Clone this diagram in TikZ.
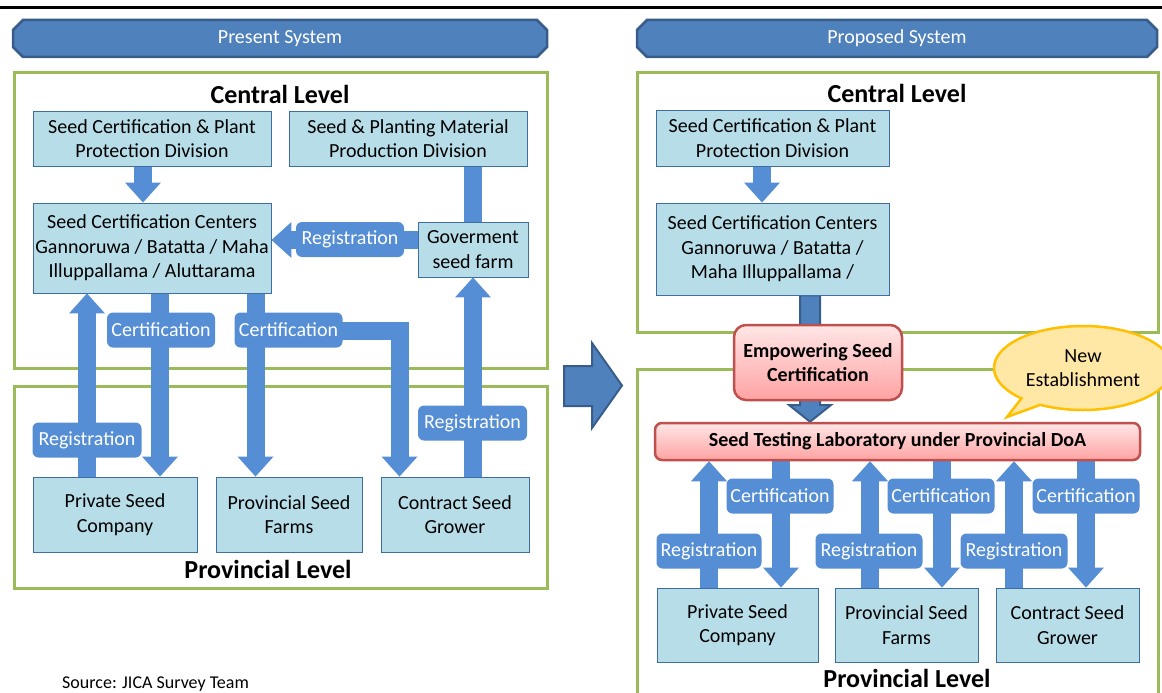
\documentclass[tikz,border=0pt]{standalone}
\usepackage{fontspec}
\setmainfont{Carlito}
\usetikzlibrary{arrows.meta,shapes.misc,shapes.callouts}
\definecolor{arrowblue}{HTML}{558ED5}
\definecolor{boxfill}{HTML}{B7DEE8}
\definecolor{boxline}{HTML}{3E6E9E}
\definecolor{bannerfill}{HTML}{4F81BD}
\definecolor{bannerline}{HTML}{385D8A}
\definecolor{lvgreen}{HTML}{9BBB59}
\definecolor{redline}{HTML}{C0504D}
\definecolor{redtop}{HTML}{FFE6E6}
\definecolor{redbot}{HTML}{FFA3A3}
\definecolor{bubfill}{HTML}{FFE8A6}
\definecolor{bubline}{HTML}{FFC000}
\pgfdeclarelayer{bg}
\pgfdeclarelayer{mid}
\pgfsetlayers{bg,mid,main}
\newcommand\bxf{\fontsize{20}{24.5}\selectfont}
\newcommand\lvf{\fontsize{26}{30}\selectfont\bfseries}
\newcommand\bnf{\fontsize{20}{24}\selectfont}
\begin{document}
\begin{tikzpicture}[x=1pt,y=-1pt,
  box/.style={draw=boxline, fill=boxfill, line width=0.9pt, align=center, inner sep=0pt, font=\bxf},
  lbl/.style={fill=arrowblue, rounded corners=6pt, text=white, font=\bxf, inner sep=0pt, minimum height=35pt},
  flow/.style={draw=arrowblue, line width=18pt, -{Triangle[width=36pt,length=20pt,line width=0pt]}},
  barline/.style={draw=arrowblue, line width=18pt},
  lvl/.style={font=\lvf, inner sep=0pt},
  frame/.style={draw=lvgreen, line width=3pt},
  banner/.style={chamfered rectangle, chamfered rectangle xsep=5pt, chamfered rectangle ysep=5pt, fill=bannerfill, draw=bannerline, line width=2.5pt, text=white, font=\bnf, inner sep=0pt, minimum height=37pt},
  redbox/.style={draw=redline, line width=2.5pt, top color=redtop, bottom color=redbot, font=\bxf\bfseries, align=center, inner sep=0pt},
  darkarrow/.style={fill=bannerfill, draw=bannerline, line width=2pt, line join=miter}
]
\useasboundingbox (0,0) rectangle (1162,693);
\clip (0,0) rectangle (1162,693);

% top rule
\draw[line width=3pt] (0,8) -- (1162,8);

% banners
\node[banner, minimum width=534pt] (bnL) at (280,38.5) {Present System};
\node[banner, minimum width=520pt] (bnR) at (897,38.5) {Proposed System};

% frames
\begin{pgfonlayer}{bg}
\draw[frame] (14,73) rectangle (547,368);
\draw[frame] (14,386) rectangle (547,588);
\draw[frame] (637,73) rectangle (1158,332);
\draw[frame] (637,369) rectangle (1158,720);
\end{pgfonlayer}

% ---------- left panel ----------
\node[lvl] (clL) at (280,94) {Central Level};
\node[lvl] (plL) at (268,569) {Provincial Level};
\node[box, minimum width=238pt, minimum height=55pt] (A) at (152,138.5) {Seed Certification \& Plant\\Protection Division};
\node[box, minimum width=238pt, minimum height=55pt] (B) at (408,138.5) {Seed \& Planting Material\\Production Division};
\node[box, minimum width=238pt, minimum height=90pt] (C) at (152,248) {Seed Certification Centers\\Gannoruwa / Batatta / Maha\\Illuppallama / Aluttarama};
\node[box, minimum width=110pt, minimum height=55pt] (D) at (473,249.5) {Goverment\\seed farm};
\node[box, minimum width=164pt, minimum height=75pt] (E) at (115,514.5) {Private Seed\\Company};
\node[box, minimum width=146pt, minimum height=75pt] (F) at (289,514.5) {Provincial Seed\\Farms};
\node[box, minimum width=148pt, minimum height=75pt] (G) at (455,514.5) {Contract Seed\\Grower};

\begin{pgfonlayer}{mid}
\draw[flow] (143,0 |- A.south) -- (143,0 |- C.north);
\draw[barline] (473,0 |- B.south) -- (473,0 |- D.north);
\draw[flow] (D.west |- 0,240) -- (C.east |- 0,240);
\draw[flow] (160,0 |- C.south) -- (160,0 |- E.north);
\draw[flow] (87,0 |- E.north) -- (87,0 |- C.south);
\draw[flow] (255.5,0 |- C.south) -- (255.5,0 |- F.north);
\draw[flow] (255.5,0 |- C.south) -- (255.5,331) -- (399.5,331) -- (399.5,0 |- G.north);
\draw[flow] (473,0 |- G.north) -- (473,0 |- D.south);
\end{pgfonlayer}

\node[lbl, minimum width=108pt] (rL1) at (350,239.5) {Registration};
\node[lbl, minimum width=108pt] (cL1) at (161,330) {Certification};
\node[lbl, minimum width=108pt] (cL2) at (288.5,330) {Certification};
\node[lbl, minimum width=109pt] (rL2) at (87,440) {Registration};
\node[lbl, minimum width=109pt] (rL3) at (472.5,423) {Registration};

\node[anchor=west, inner sep=0pt, font=\fontsize{18}{21}\selectfont] (src) at (62,684) {Source: JICA Survey Team};

% big arrow between panels
\draw[darkarrow] (564,366) -- (592,366) -- (592,343) -- (622,385.5) -- (592,428) -- (592,406) -- (564,406) -- cycle;

% ---------- right panel ----------
\node[lvl] (clR) at (897,93) {Central Level};
\node[lvl] (plR) at (907,678) {Provincial Level};
\node[box, minimum width=233pt, minimum height=56pt] (Ap) at (772.5,138) {Seed Certification \& Plant\\Protection Division};
\node[box, minimum width=233pt, minimum height=92pt] (Cp) at (772.5,249) {Seed Certification Centers\\Gannoruwa / Batatta /\\Maha Illuppallama /};
\node[redbox, rounded corners=12pt, minimum width=168pt, minimum height=75pt] (Emp) at (818,362.5) {Empowering Seed\\Certification};
\node[redbox, rounded corners=7pt, minimum width=485pt, minimum height=37pt] (Lab) at (897.5,441.5) {Seed Testing Laboratory under Provincial DoA};
\node[ellipse callout, draw=bubline, fill=bubfill, line width=2.5pt, minimum width=178pt, minimum height=84pt, callout absolute pointer={(1007,417)}, align=center, font=\bxf, inner sep=0pt] (bub) at (1083,368) {New\\Establishment};
\node[box, minimum width=161pt, minimum height=74pt] (Ep) at (737.5,625) {Private Seed\\Company};
\node[box, minimum width=143pt, minimum height=74pt] (Fp) at (906.5,625) {Provincial Seed\\Farms};
\node[box, minimum width=143pt, minimum height=74pt] (Gp) at (1067.5,625) {Contract Seed\\Grower};

\begin{pgfonlayer}{mid}
\draw[flow] (762,0 |- Ap.south) -- (762,0 |- Cp.north);
\draw[darkarrow] (800,0 |- Cp.south) -- (800,405) -- (789,405) -- (810,0 |- Lab.north) -- (831,405) -- (820,405) -- (820,0 |- Cp.south) -- cycle;
\draw[flow] (709,0 |- Ep.north) -- (709,0 |- Lab.south);
\draw[flow] (781,0 |- Lab.south) -- (781,0 |- Ep.north);
\draw[flow] (870,0 |- Fp.north) -- (870,0 |- Lab.south);
\draw[flow] (942,0 |- Lab.south) -- (942,0 |- Fp.north);
\draw[flow] (1014,0 |- Gp.north) -- (1014,0 |- Lab.south);
\draw[flow] (1086,0 |- Lab.south) -- (1086,0 |- Gp.north);
\end{pgfonlayer}

\node[lbl, minimum width=105pt] (rR1) at (709,551) {Registration};
\node[lbl, minimum width=107pt] (cR1) at (780,496) {Certification};
\node[lbl, minimum width=107pt] (rR2) at (869,551) {Registration};
\node[lbl, minimum width=107pt] (cR2) at (941,496) {Certification};
\node[lbl, minimum width=107pt] (rR3) at (1014,551) {Registration};
\node[lbl, minimum width=107pt] (cR3) at (1086,496) {Certification};
\end{tikzpicture}
\end{document}
